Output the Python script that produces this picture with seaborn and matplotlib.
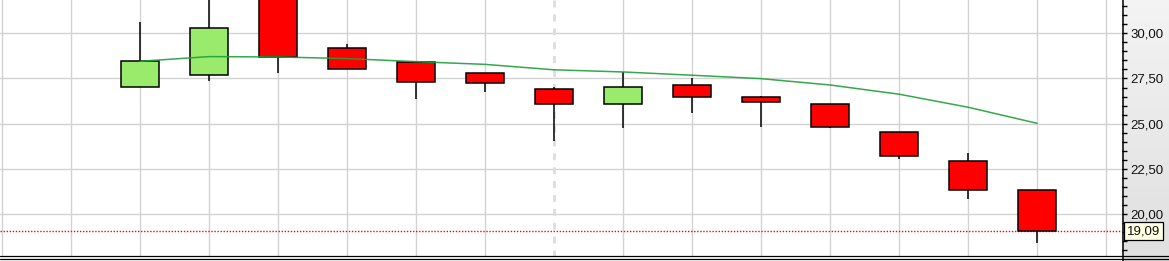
import numpy as np
import pandas as pd
import matplotlib
matplotlib.use("Agg")
import matplotlib.pyplot as plt
from matplotlib.ticker import MultipleLocator, FixedLocator, FuncFormatter
from matplotlib.lines import Line2D
import seaborn as sns

# ---- data ----
idx    = [2, 3, 4, 5, 6, 7, 8, 9, 10, 11, 12, 13, 14, 15]
opens  = [27.01, 27.68, 32.50, 29.17, 28.40, 27.79, 26.90, 26.07, 27.12, 26.46, 26.07, 24.52, 22.94, 21.32]
highs  = [30.62, 32.30, 32.50, 29.41, 28.40, 27.79, 27.01, 27.86, 27.53, 26.53, 26.07, 24.52, 23.40, 21.32]
lows   = [27.01, 27.38, 27.79, 28.01, 26.38, 26.77, 24.06, 24.78, 25.61, 24.83, 24.75, 23.03, 20.82, 18.39]
closes = [28.45, 30.28, 28.69, 28.01, 27.29, 27.23, 26.07, 27.01, 26.49, 26.22, 24.83, 23.20, 21.32, 19.09]
sma    = [28.45, 28.71, 28.69, 28.60, 28.43, 28.28, 27.98, 27.86, 27.68, 27.49, 27.14, 26.63, 25.91, 25.02]
last_price = 19.09
y_ticks = [20.0, 22.5, 25.0, 27.5, 30.0]
separator_idx = 8

sns.set_style("white")
plt.rcParams['font.family'] = ['Liberation Sans', 'DejaVu Sans']

W, H = 1169, 261
fig = plt.figure(figsize=(W / 100, H / 100), dpi=100)
fig.patch.set_facecolor('white')

# right axis panel background (gradient)
bg = fig.add_axes([1122 / W, 0, 1 - 1122 / W, 1], zorder=-5)
grad = np.linspace(0.955, 0.875, 256).reshape(-1, 1)
bg.imshow(np.dstack([grad, grad, grad]), aspect='auto', extent=[0, 1, 0, 1])
bg.set_axis_off()

ax = fig.add_axes([0, 4.5 / H, 1122 / W, 1 - 4.5 / H], zorder=1)
ax.set_facecolor('white')
ax.set_xlim(-0.03, 16.23)
ax.set_ylim(17.655, 31.84)

# grid
for gx in range(0, 17):
    if gx == separator_idx:
        continue
    ax.axvline(gx, color='#d2d2d2', lw=1.0, zorder=0)
for gy in y_ticks:
    ax.axhline(gy, color='#d2d2d2', lw=1.0, zorder=0)
ax.axvline(separator_idx, color='#dddddd', lw=2.0, ls=(0, (2.5, 2.5)), zorder=0)

# last price line
ax.axhline(last_price, color='red', lw=1.0, ls=(0, (1, 1.2)), zorder=1)

# candles
df = pd.DataFrame({'i': idx, 'o': opens, 'h': highs, 'l': lows, 'c': closes})
up = df['c'] >= df['o']
colors = np.where(up, '#9aeb6b', '#ff0000')
ax.vlines(df['i'], df['l'], df['h'], color='black', lw=1.1, zorder=2)
bottoms = np.minimum(df['o'], df['c'])
heights = np.abs(df['c'] - df['o'])
ax.bar(df['i'], heights, bottom=bottoms, width=0.55, color=colors,
       edgecolor='black', linewidth=1.1, zorder=3)

# moving average
sns.lineplot(x=idx, y=sma, color='#1f9e3a', lw=1.1, ax=ax, zorder=4, alpha=0.9)

# axes styling
for s in ['left', 'top', 'bottom']:
    ax.spines[s].set_visible(False)
ax.spines['right'].set_visible(False)
ax.set_xticks([])
ax.yaxis.tick_right()
ax.yaxis.set_major_locator(FixedLocator(y_ticks))
ax.yaxis.set_minor_locator(MultipleLocator(0.5))
ax.yaxis.set_major_formatter(FuncFormatter(lambda v, p: f"{v:.2f}".replace('.', ',')))
ax.tick_params(axis='y', which='both', direction='out', length=3.5, width=1.0,
               color='black', labelsize=9.5, pad=2.5, labelcolor='#111111')
ax.set_xlabel('')
ax.set_ylabel('')

# right border line (full height) and double bottom line (full width)
fig.add_artist(Line2D([1122.5 / W, 1122.5 / W], [0, 1], color='black', lw=1.1,
                      transform=fig.transFigure, zorder=5))
for yy in (4.6, 2.3):
    fig.add_artist(Line2D([0, 1], [yy / H, yy / H], color='black', lw=0.9,
                          transform=fig.transFigure, zorder=5))

# last-price label
fig.text(1127 / W, 1 - 231 / H, "19,09", fontsize=9.5,
         va='center', ha='left', color='#111111',
         bbox=dict(boxstyle='square,pad=0.22', fc='#ffffe1', ec='black', lw=0.9))

fig.savefig("out.png", dpi=100)
